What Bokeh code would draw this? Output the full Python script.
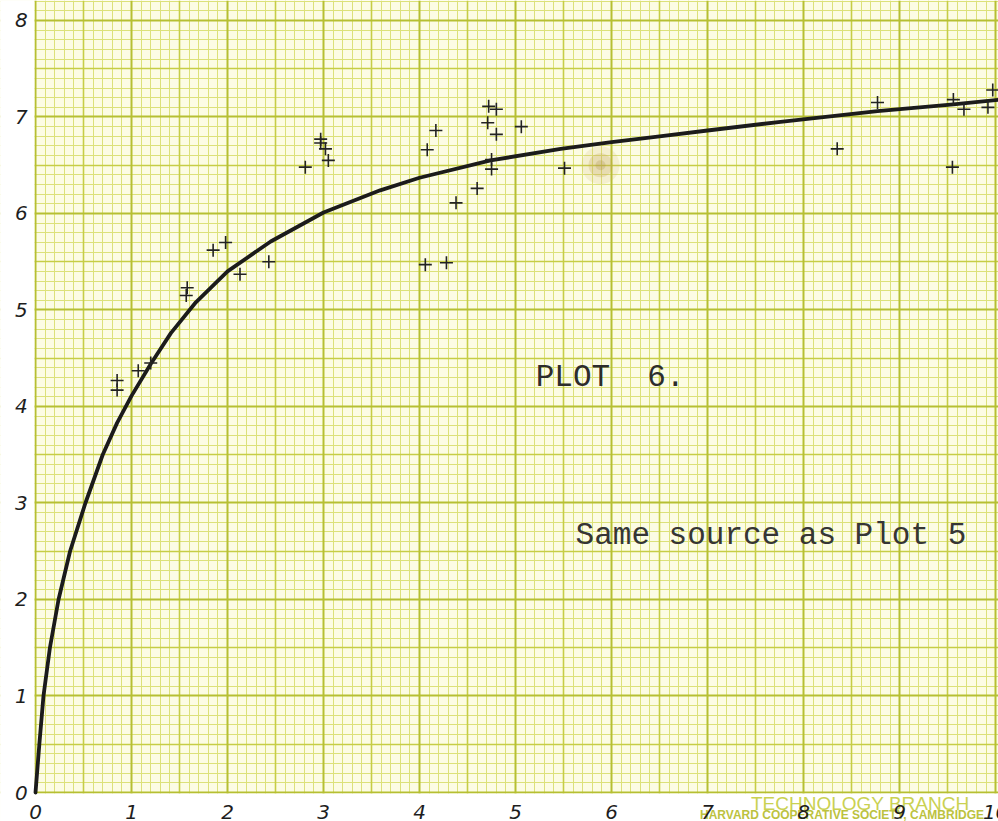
from bokeh.plotting import figure
from bokeh.models import Grid, FixedTicker, Range1d
from bokeh.core.properties import value
from bokeh.embed import file_html
from bokeh.resources import INLINE

# ---- data ----
pts_x = [0.85, 0.85, 1.07, 1.20, 1.58, 1.57, 1.85, 1.98, 2.13, 2.43,
         2.81, 2.97, 2.97, 3.02, 3.05, 4.08, 4.17, 4.06, 4.28, 4.38,
         4.60, 4.72, 4.80, 4.71, 4.80, 4.75, 4.75, 5.06, 5.51,
         8.77, 8.35, 9.56, 9.67, 9.55, 9.92, 9.97]
pts_y = [4.27, 4.17, 4.37, 4.45, 5.23, 5.15, 5.62, 5.70, 5.37, 5.50,
         6.48, 6.77, 6.73, 6.67, 6.55, 6.66, 6.86, 5.47, 5.49, 6.11,
         6.26, 7.11, 7.08, 6.94, 6.82, 6.56, 6.46, 6.90, 6.47,
         7.15, 6.67, 7.18, 7.08, 6.48, 7.10, 7.28]

curve_x = [0.0, 0.04, 0.083, 0.15, 0.24, 0.36, 0.52, 0.70, 0.85, 1.0, 1.2,
           1.41, 1.67, 2.0, 2.45, 3.0, 3.59, 4.0, 4.74, 5.47, 6.0, 6.5,
           7.0, 7.76, 8.77, 9.56, 10.05]
curve_y = [0.0, 0.5, 1.0, 1.5, 2.0, 2.5, 3.0, 3.5, 3.83, 4.11, 4.44,
           4.76, 5.08, 5.40, 5.71, 6.01, 6.24, 6.37, 6.55, 6.67, 6.74, 6.80,
           6.86, 6.95, 7.06, 7.13, 7.18]

x_ticks = [0, 1, 2, 3, 4, 5, 6, 7, 8, 9, 10]
x_tick_labels = ["0", "1", "2", "3", "4", "5", "6", "7", "8", "9", "10"]
y_ticks = [0, 1, 2, 3, 4, 5, 6, 7, 8]
y_tick_labels = ["0", "1", "2", "3", "4", "5", "6", "7", "8"]

stain_x = [5.885]
stain_y = [6.50]

X_MIN, X_MAX = -0.3646, 10.03
Y_MIN, Y_MAX = -0.3005, 8.207

# ---- figure ----
p = figure(width=998, height=821, output_backend="svg", toolbar_location=None,
           x_range=Range1d(X_MIN, X_MAX), y_range=Range1d(Y_MIN, Y_MAX),
           min_border_left=0, min_border_right=0, min_border_top=0,
           min_border_bottom=0)
p.background_fill_color = "#fcfce4"
p.border_fill_color = "#ffffff"
p.outline_line_color = None
p.xgrid.visible = False
p.ygrid.visible = False
p.xaxis.visible = False
p.yaxis.visible = False

minor = [i / 10 for i in range(0, 102) if i % 5 != 0]
medium = [i / 10 for i in range(5, 102, 10)]
major = [float(i) for i in range(0, 11)]

for dim in (0, 1):
    p.add_layout(Grid(dimension=dim, ticker=FixedTicker(ticks=minor),
                      grid_line_color="#dce17a", grid_line_width=1))
for dim in (0, 1):
    p.add_layout(Grid(dimension=dim, ticker=FixedTicker(ticks=medium),
                      grid_line_color="#c6cd46", grid_line_width=1.6))
for dim in (0, 1):
    p.add_layout(Grid(dimension=dim, ticker=FixedTicker(ticks=major),
                      grid_line_color="#b6bf32", grid_line_width=2))

# white margins outside the paper (left of x = 0, below y = 0)
p.quad(left=[X_MIN - 1], right=[X_MAX + 1], bottom=[Y_MIN - 1], top=[-0.011],
       fill_color="#ffffff", line_color=None)
p.quad(left=[X_MIN - 1], right=[-0.011], bottom=[Y_MIN - 1], top=[Y_MAX + 1],
       fill_color="#ffffff", line_color=None)

# paper maker's imprint
p.text(x=[8.59], y=[-0.11], text=["TECHNOLOGY BRANCH"],
       text_font=value("Liberation Sans"), text_font_size="19px",
       text_color="#cad152", text_align="center", text_baseline="middle")
p.text(x=[8.40], y=[-0.228], text=["HARVARD COOPERATIVE SOCIETY, CAMBRIDGE"],
       text_font=value("Liberation Sans"), text_font_size="12px",
       text_font_style="bold", text_color="#bcc23e",
       text_align="center", text_baseline="middle")

# hand lettered axis numbers
p.text(x=x_ticks, y=[-0.2] * len(x_ticks), text=x_tick_labels,
       text_font=value("DejaVu Sans"), text_font_style="italic",
       text_font_size="20px", text_color="#1e1e1e",
       text_align="center", text_baseline="middle")
p.text(x=[-0.08] * len(y_ticks), y=y_ticks, text=y_tick_labels,
       text_font=value("DejaVu Sans"), text_font_style="italic",
       text_font_size="20px", text_color="#1e1e1e",
       text_align="right", text_baseline="middle")

# stain on the paper
p.scatter(stain_x, stain_y, size=38, color="#cfae66", alpha=0.16, line_color=None)
p.scatter(stain_x, stain_y, size=24, color="#c29e55", alpha=0.24, line_color=None)
p.scatter(stain_x, stain_y, size=10, color="#a88a4c", alpha=0.25, line_color=None)

# fitted curve
p.line(curve_x, curve_y, line_color="#1b1b1b", line_width=3.8,
       line_join="round", line_cap="round")

# observations
p.scatter(pts_x, pts_y, marker="cross", size=13, line_color="#222222",
          line_width=1.6)

# typewritten notes
p.text(x=[5.21], y=[4.30], text=["PLOT\u00a0\u00a06."],
       text_font=value("Liberation Mono"), text_font_size="31px",
       text_color="#2c2c2c", text_baseline="middle")
p.text(x=[5.625], y=[2.66], text=["Same source as Plot 5"],
       text_font=value("Liberation Mono"), text_font_size="31px",
       text_color="#353535", text_baseline="middle")

open("out.html", "w").write(file_html(p, INLINE))
